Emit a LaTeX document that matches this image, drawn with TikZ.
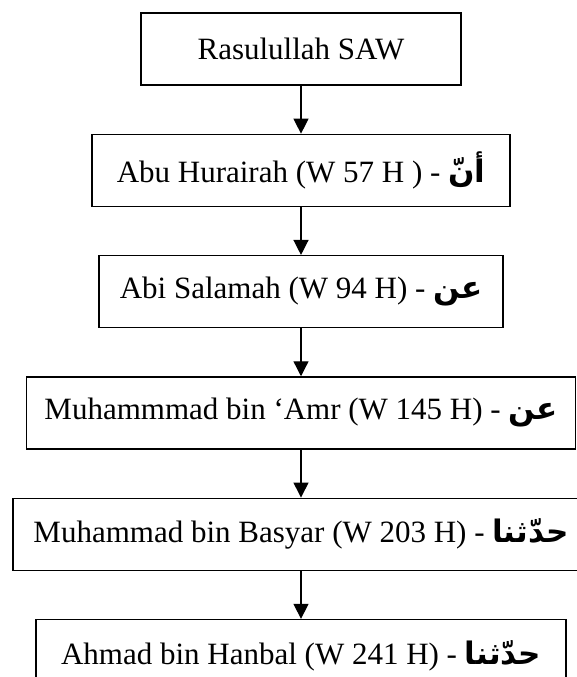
\documentclass[tikz,border=0pt]{standalone}
\usepackage{fontspec}
\setmainfont{Liberation Serif}
\newfontfamily\arabicfont[Script=Arabic]{DejaVu Sans}
\TeXXeTstate=1
\usepackage{tikz}
\usetikzlibrary{arrows.meta,positioning}
\newcommand{\arab}[1]{{\arabicfont\bfseries\beginR #1\endR}}

\begin{document}
\begin{tikzpicture}[
    sanad/.style={rectangle, draw, line width=1.3pt, minimum height=72pt, inner sep=0pt, text centered, font=\fontsize{31}{36}\selectfont},
    link/.style={-{Triangle[width=15pt,length=15pt]}, line width=1.3pt},
    node distance=48pt
]
\useasboundingbox (0,0) rectangle (576pt,-677pt);

% Rantai sanad
\node (nabi) [sanad, minimum width=320pt] at (301pt,-49pt) {Rasulullah SAW};
\node (abuhurairah) [sanad, minimum width=418pt, below=of nabi] {Abu Hurairah (W 57 H ) - \arab{أنّ}};
\node (abisalamah) [sanad, minimum width=404pt, below=of abuhurairah] {Abi Salamah (W 94 H) - \arab{عن}};
\node (muhammadamr) [sanad, minimum width=549pt, below=of abisalamah] {Muhammmad bin ‘Amr (W 145 H) - \arab{عن}};
\node (muhammadbasyar) [sanad, minimum width=576pt, below=of muhammadamr] {Muhammad bin Basyar (W 203 H) - \arab{حدّثنا}};
\node (ahmad) [sanad, minimum width=530pt, below=of muhammadbasyar] {Ahmad bin Hanbal (W 241 H) - \arab{حدّثنا}};

% Panah
\draw[link] (nabi) -- (abuhurairah);
\draw[link] (abuhurairah) -- (abisalamah);
\draw[link] (abisalamah) -- (muhammadamr);
\draw[link] (muhammadamr) -- (muhammadbasyar);
\draw[link] (muhammadbasyar) -- (ahmad);

\end{tikzpicture}
\end{document}
